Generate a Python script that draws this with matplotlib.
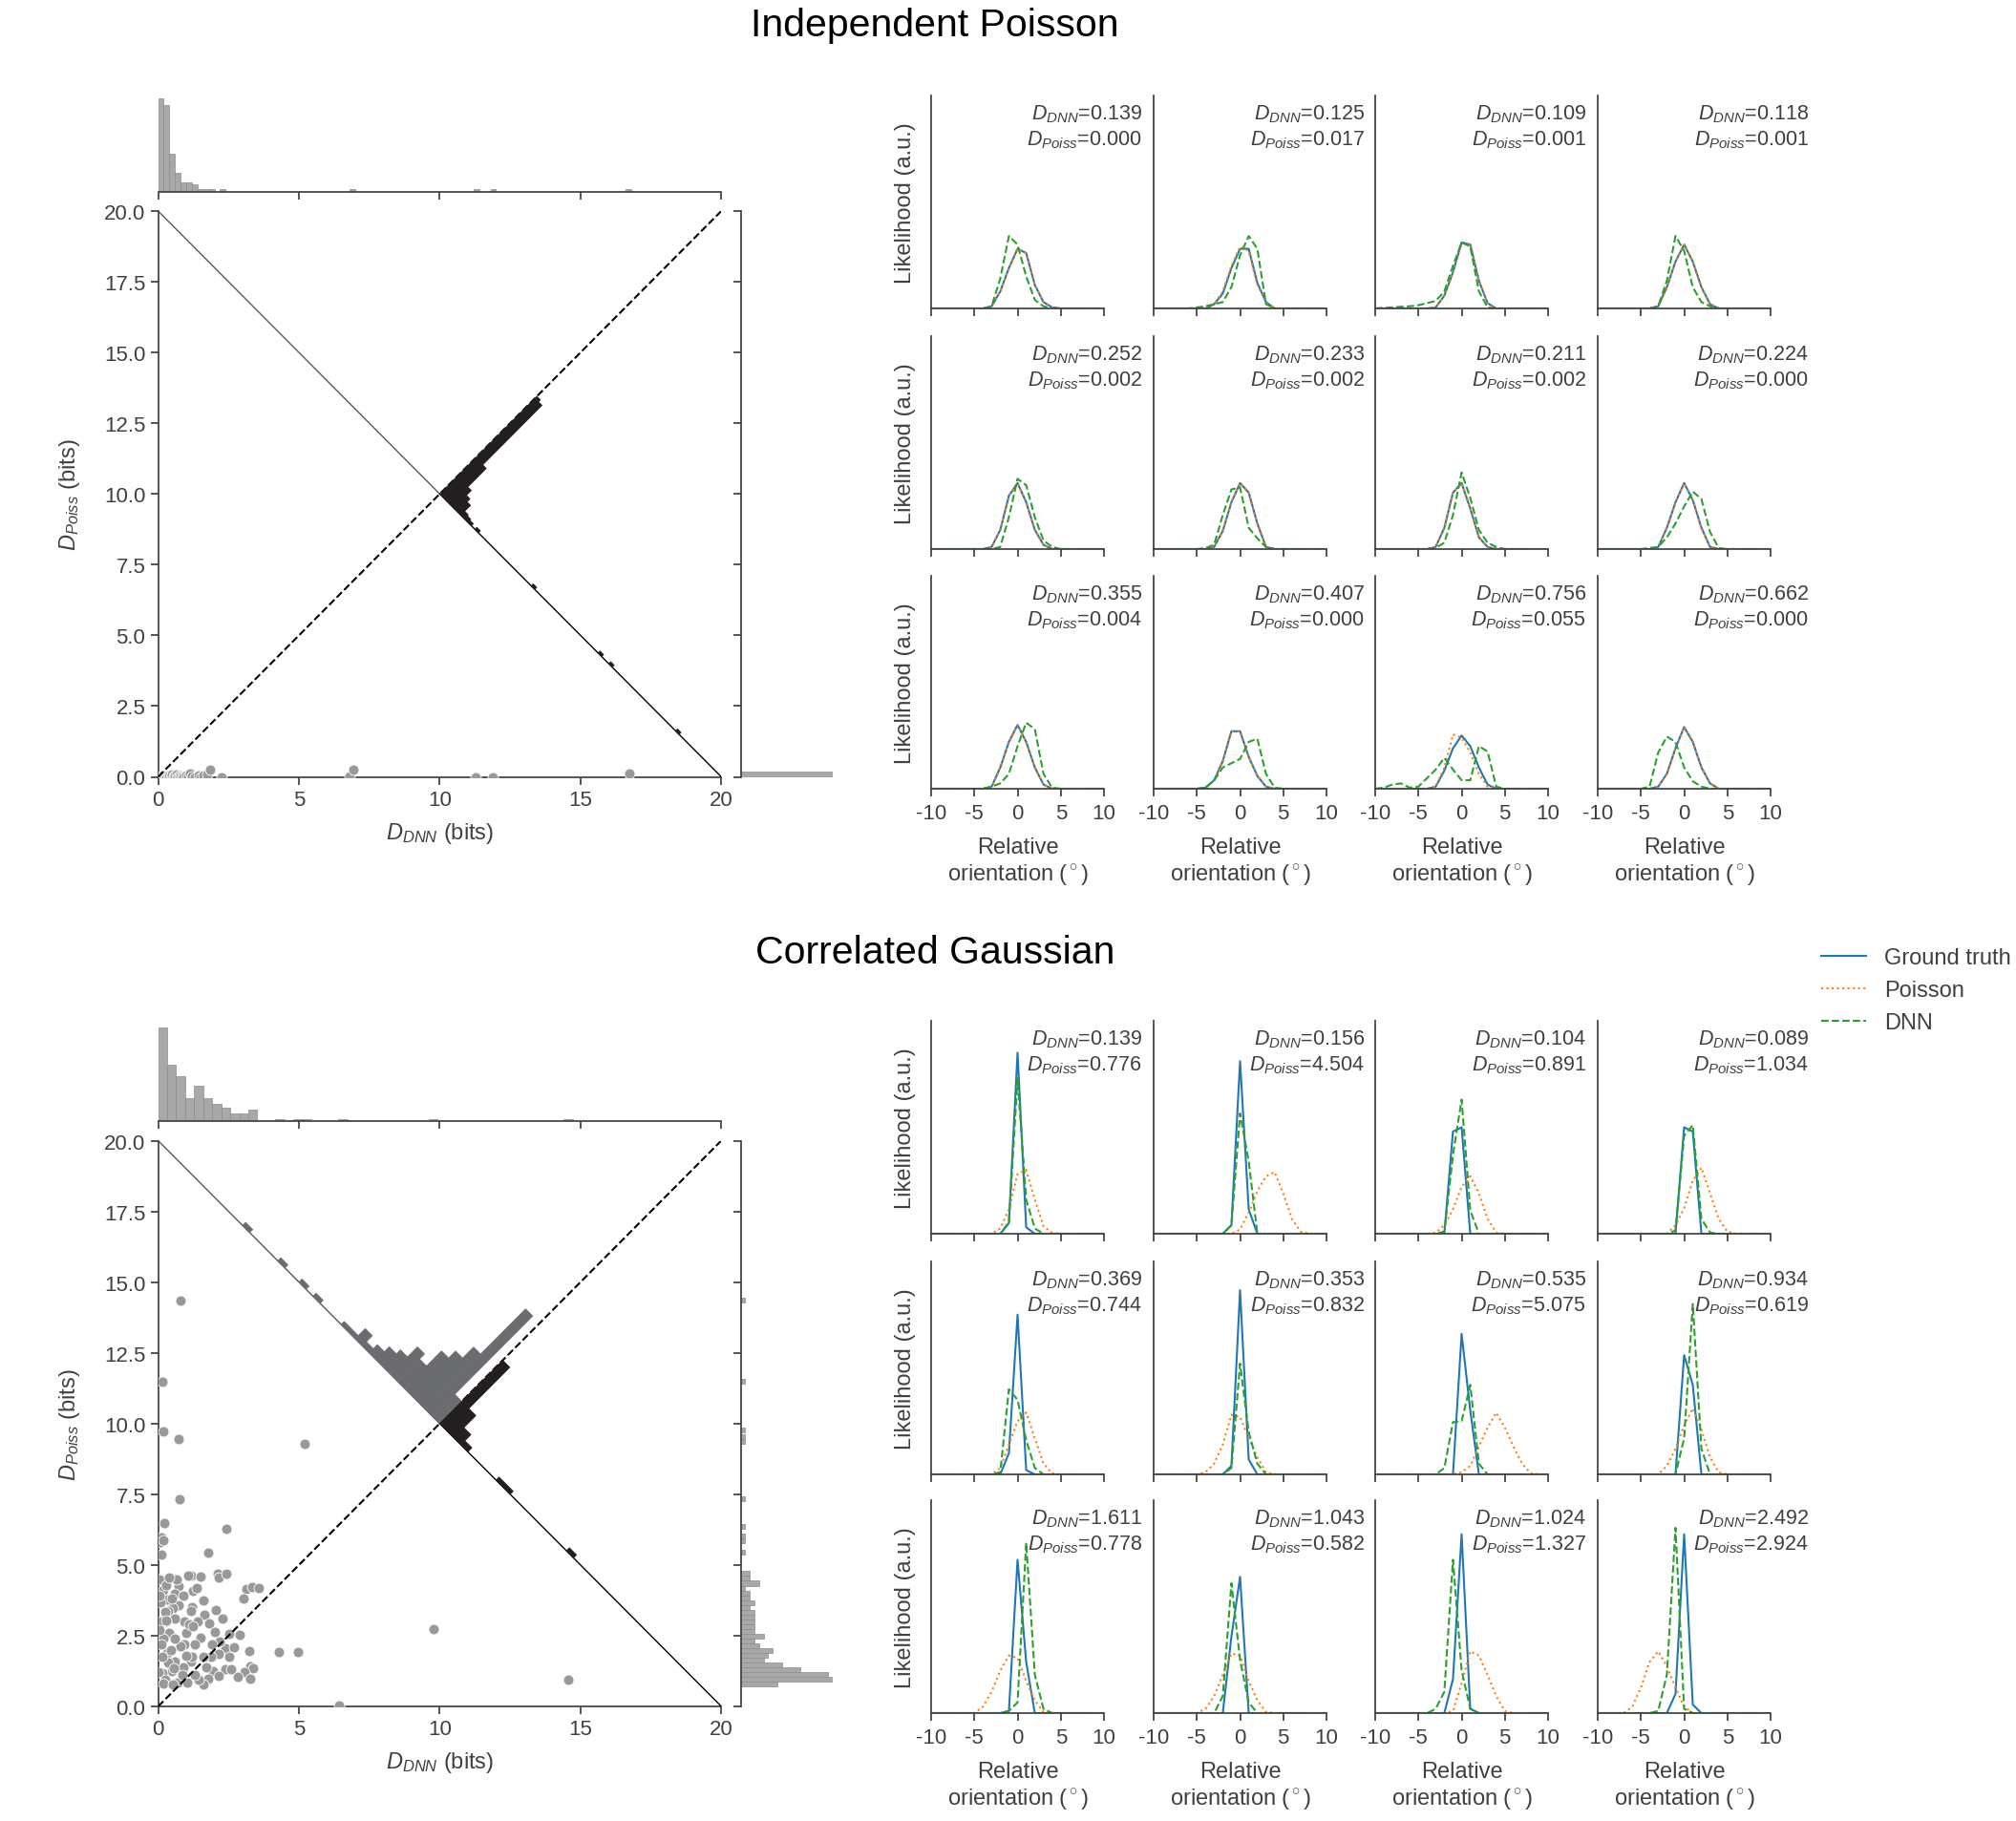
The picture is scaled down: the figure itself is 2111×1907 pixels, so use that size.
import numpy as np
import matplotlib
matplotlib.use('Agg')
import matplotlib.pyplot as plt
from matplotlib.transforms import Affine2D
from matplotlib.lines import Line2D

plt.rcParams['font.family'] = ['Liberation Sans', 'DejaVu Sans']
plt.rcParams['mathtext.fontset'] = 'custom'
plt.rcParams['mathtext.rm'] = 'Liberation Sans'
plt.rcParams['mathtext.it'] = 'Liberation Sans:italic'
plt.rcParams['mathtext.bf'] = 'Liberation Sans:bold'
plt.rcParams['axes.unicode_minus'] = False

DARK = '#404040'
for k in ['text.color', 'axes.labelcolor', 'xtick.color', 'ytick.color', 'axes.edgecolor']:
    plt.rcParams[k] = DARK

# ------------------------------------------------------------------ data
titles = ['Independent Poisson', 'Correlated Gaussian']

# scatter: (D_DNN, D_Poiss)
dnn_pts_top = [0.05, 0.1, 0.15, 0.2, 0.25, 0.3, 0.36, 0.4, 0.45, 0.5, 0.55, 0.6, 0.65, 0.7, 0.75, 0.8, 0.85,
               0.9, 1.0, 1.05, 1.13, 1.2, 1.3, 1.43, 1.5, 1.6, 1.73, 1.86, 2.25, 6.8, 6.93, 11.26, 11.87, 16.75]
poiss_pts_top = [0, 0.02, 0, 0.05, 0.01, 0, 0.05, 0.03, 0, 0.08, 0.02, 0.04, 0.1, 0, 0.06, 0.02, 0.03,
                 0, 0.05, 0.02, 0.12, 0.03, 0, 0.05, 0, 0.04, 0.1, 0.25, 0, 0.03, 0.25, 0, 0, 0.12]

dnn_pts_bot = [0.81, 0.15, 0.2, 0.74, 5.21, 0.77, 0.23, 2.41, 0.11, 0.08, 0.19, 0.11, 1.78, 1.18, 1.06, 1.52,
               2.13, 2.15, 2.43, 0.74, 0.19, 1.23, 1.38, 3.13, 3.33, 3.59, 3.02, 1.61, 0.31, 0.08, 0.72, 0.51,
               1.19, 1.16, 0.36, 0.25, 1.65, 1.8, 0.92, 0.59, 0.27, 2.0, 1.49, 2.51, 2.89, 0.93, 0.78, 0.32,
               2.4, 3.25, 4.3, 4.98, 2.15, 2.51, 1.89, 1.16, 1.61, 1.21, 3.28, 3.36, 3.08, 0.48, 0.14, 1.95,
               2.4, 2.15, 2.82, 3.28, 0.25, 0.7, 1.04, 1.47, 1.78, 0.19, 0.53, 1.61, 1.44, 9.78, 14.58, 6.42,
               0.05, 0.3, 0.6, 0.9, 0.4, 0.6, 1.0, 1.3, 0.9, 1.3, 1.7, 0.6, 2.2, 2.7, 0.2, 0.1, 0.5, 1.4, 1.9,
               2.6, 0.35, 1.1, 2.3, 0.65, 0.45, 0.05, 0.15, 0.85, 1.25, 0.55, 0.05, 0.3, 0.1, 1.0, 2.05, 0.0, 0.4]
poiss_pts_bot = [14.33, 11.46, 9.73, 9.46, 9.29, 7.33, 6.49, 6.28, 5.98, 5.81, 5.87, 5.36, 5.44, 4.63, 4.63, 4.6,
                 4.68, 4.55, 4.7, 4.25, 4.13, 4.07, 4.18, 4.15, 4.23, 4.2, 3.8, 3.76, 3.78, 3.67, 3.58, 3.49,
                 3.5, 3.36, 3.36, 3.35, 3.23, 2.93, 3.02, 3.1, 2.99, 2.63, 2.43, 2.57, 2.54, 2.2, 2.12, 1.9,
                 2.07, 1.96, 1.94, 1.94, 1.86, 1.77, 1.75, 1.59, 1.75, 1.75, 1.41, 1.35, 1.21, 1.24, 1.19, 1.24,
                 1.3, 1.07, 1.04, 0.98, 0.96, 0.85, 0.85, 0.9, 0.98, 0.82, 0.79, 0.79, 0.94, 2.73, 0.93, 0.03,
                 4.5, 4.3, 4.0, 3.9, 2.6, 2.4, 2.6, 2.2, 1.4, 1.1, 1.4, 1.6, 2.3, 2.1, 2.4, 3.0, 3.8, 3.0, 2.2,
                 1.3, 1.55, 2.9, 3.1, 4.5, 2.0, 2.7, 1.75, 1.1, 2.85, 1.35, 3.9, 3.05, 2.2, 1.8, 3.4, 1.2, 4.55]

# marginal histogram of D_DNN (bin left edges, counts)
dnn_bin_left_top = [0.0, 0.2, 0.4, 0.6, 0.8, 1.0, 1.2, 1.4, 1.6, 1.8, 2.2, 6.8, 11.2, 11.8, 16.6]
dnn_count_top = [40, 37, 16, 8, 4, 4, 3, 1, 1, 1, 1, 1, 1, 1, 1]
dnn_bin_w_top = 0.2
dnn_bin_left_bot = [0.0, 0.32, 0.64, 0.96, 1.28, 1.6, 1.92, 2.24, 2.56, 2.88, 3.2, 4.16, 4.8, 5.12, 6.4, 9.6, 14.4]
dnn_count_bot = [48, 29, 23, 12, 18, 12, 9, 7, 4, 4, 6, 1, 1, 1, 1, 1, 1]
dnn_bin_w_bot = 0.32

# marginal histogram of D_Poiss
poiss_bin_left_top = [0.0]
poiss_count_top = [120]
poiss_bin_w_top = 0.2
poiss_bin_left_bot = [0.70, 0.87, 1.04, 1.21, 1.38, 1.55, 1.72, 1.89, 2.06, 2.23, 2.40, 2.57, 2.74, 2.91, 3.08,
                      3.25, 3.42, 3.59, 3.76, 3.93, 4.10, 4.27, 4.44, 4.61, 5.36, 5.78, 5.95, 6.27, 7.27, 9.27,
                      9.44, 9.70, 11.40, 14.28]
poiss_count_bot = [8, 20, 19, 13, 9, 5, 6, 7, 4, 3, 5, 3, 3, 3, 3, 3, 2, 3, 2, 2, 1, 4, 2, 2,
                   1, 1, 1, 1, 1, 1, 1, 1, 1, 1]
poiss_bin_w_bot = 0.17

# histogram of D_Poiss - D_DNN (bin centres, counts), drawn along the anti-diagonal
diff_centre_top = [-0.125, -0.375, -0.625, -0.875, -1.125, -1.375, -1.625, -1.875, -2.125, -2.625,
                   -6.625, -11.375, -12.125, -16.875]
diff_count_top = [100, 98, 37, 18, 13, 10, 4, 3, 2, 2, 2, 2, 2, 2]
diff_w_top = 0.25
diff_centre_bot = [0.25, 0.75, 1.25, 1.75, 2.25, 2.75, 3.25, 3.75, 4.25, 4.75, 5.25, 5.75, 6.25, 6.75, 8.75,
                   9.75, 11.25, 13.75, -0.25, -0.75, -1.25, -1.75, -4.25, -4.75, -9.25]
diff_count_bot = [22, 100, 55, 44, 37, 22, 27, 17, 13, 8, 4, 10, 3, 3, 3, 3, 3, 3, 63, 22, 10, 4, 3, 3, 3]
diff_w_bot = 0.5

# likelihood panels
orientation = [-10, -9, -8, -7, -6, -5, -4, -3, -2, -1, 0, 1, 2, 3, 4, 5, 6, 7, 8, 9, 10]

gt_top = [
    [0,0,0,0,0,0,0,.01,.08,.19,.28,.26,.11,.03,.005,0,0,0,0,0,0],
    [0,0,0,0,0,0,0,.02,.07,.19,.28,.28,.12,.03,0,0,0,0,0,0,0],
    [0,0,0,0,0,0,0,.005,.06,.17,.31,.30,.13,.025,0,0,0,0,0,0,0],
    [0,0,0,0,0,0,0,.01,.10,.22,.30,.22,.10,.02,0,0,0,0,0,0,0],
    [0,0,0,0,0,0,0,.01,.09,.25,.31,.22,.09,.02,0,0,0,0,0,0,0],
    [0,0,0,0,0,0,0,.01,.085,.22,.31,.265,.12,.01,0,0,0,0,0,0,0],
    [0,0,0,0,0,0,0,.01,.10,.265,.31,.19,.055,.01,0,0,0,0,0,0,0],
    [0,0,0,0,0,0,0,.01,.10,.22,.31,.23,.10,.01,0,0,0,0,0,0,0],
    [0,0,0,0,0,0,0,.01,.10,.22,.30,.22,.10,.02,0,0,0,0,0,0,0],
    [0,0,0,0,0,0,.005,.04,.13,.27,.27,.15,.06,.01,0,0,0,0,0,0,0],
    [0,0,0,0,0,0,0,.01,.085,.19,.25,.20,.10,.02,0,0,0,0,0,0,0],
    [0,0,0,0,0,0,0,.01,.07,.19,.29,.22,.10,.025,0,0,0,0,0,0,0],
]
poisson_top = [
    [0,0,0,0,0,0,0,.01,.08,.19,.28,.26,.11,.03,.005,0,0,0,0,0,0],
    [0,0,0,0,0,0,0,.02,.08,.20,.29,.27,.11,.03,0,0,0,0,0,0,0],
    [0,0,0,0,0,0,0,.005,.06,.17,.31,.30,.13,.025,0,0,0,0,0,0,0],
    [0,0,0,0,0,0,0,.01,.10,.22,.30,.22,.10,.02,0,0,0,0,0,0,0],
    [0,0,0,0,0,0,0,.01,.09,.25,.31,.22,.09,.02,0,0,0,0,0,0,0],
    [0,0,0,0,0,0,0,.01,.085,.22,.31,.265,.12,.01,0,0,0,0,0,0,0],
    [0,0,0,0,0,0,0,.01,.10,.265,.31,.19,.055,.01,0,0,0,0,0,0,0],
    [0,0,0,0,0,0,0,.01,.10,.22,.31,.23,.10,.01,0,0,0,0,0,0,0],
    [0,0,0,0,0,0,0,.01,.10,.22,.30,.22,.10,.02,0,0,0,0,0,0,0],
    [0,0,0,0,0,0,.005,.04,.13,.27,.27,.15,.06,.01,0,0,0,0,0,0,0],
    [0,0,0,0,0,0,0,.01,.10,.255,.24,.17,.07,.01,0,0,0,0,0,0,0],
    [0,0,0,0,0,0,0,.01,.07,.19,.29,.22,.10,.025,0,0,0,0,0,0,0],
]
dnn_top = [
    [0,0,0,0,0,0,0,.01,.14,.34,.30,.15,.04,.01,0,0,0,0,0,0,0],
    [0,0,0,0,0,.005,.01,.02,.03,.10,.25,.34,.28,.02,0,0,0,0,0,0,0],
    [0,.003,.005,.008,.01,.015,.025,.035,.08,.20,.31,.29,.08,.005,0,0,0,0,0,0,0],
    [0,0,0,0,0,0,0,.01,.13,.34,.27,.10,.03,.01,0,0,0,0,0,0,0],
    [0,0,0,0,0,0,0,0,.01,.15,.33,.30,.15,.04,.01,0,0,0,0,0,0],
    [0,0,0,0,0,0,.005,.02,.16,.28,.29,.10,.05,.01,0,0,0,0,0,0,0],
    [0,0,0,0,0,0,0,.005,.03,.16,.36,.24,.09,.03,.01,0,0,0,0,0,0],
    [0,0,0,0,0,0,.005,.01,.055,.12,.20,.27,.235,.08,.005,0,0,0,0,0,0],
    [0,0,0,0,0,0,0,.01,.025,.07,.20,.31,.28,.07,.005,0,0,0,0,0,0],
    [0,0,0,0,0,0,.005,.04,.10,.12,.14,.22,.235,.07,.005,0,0,0,0,0,0],
    [0,.005,.02,.025,.005,.01,.05,.09,.145,.09,.04,.04,.20,.175,.01,0,0,0,0,0,0],
    [0,0,0,0,0,0,.01,.17,.245,.22,.10,.035,.01,0,0,0,0,0,0,0,0],
]
gt_bot = [
    [0,0,0,0,0,0,0,0,0,.05,.85,.03,0,0,0,0,0,0,0,0,0],
    [0,0,0,0,0,0,0,0,0,.04,.81,.115,0,0,0,0,0,0,0,0,0],
    [0,0,0,0,0,0,0,0,0,.48,.50,0,0,0,0,0,0,0,0,0,0],
    [0,0,0,0,0,0,0,0,0,0,.50,.48,0,0,0,0,0,0,0,0,0],
    [0,0,0,0,0,0,0,0,0,.10,.75,.02,0,0,0,0,0,0,0,0,0],
    [0,0,0,0,0,0,0,0,0,.04,.865,.07,0,0,0,0,0,0,0,0,0],
    [0,0,0,0,0,0,0,0,0,0,.66,.30,0,0,0,0,0,0,0,0,0],
    [0,0,0,0,0,0,0,0,0,0,.56,.42,0,0,0,0,0,0,0,0,0],
    [0,0,0,0,0,0,0,0,0,.01,.72,.24,0,0,0,0,0,0,0,0,0],
    [0,0,0,0,0,0,0,0,0,.36,.64,0,0,0,0,0,0,0,0,0,0],
    [0,0,0,0,0,0,0,0,0,.16,.84,.02,0,0,0,0,0,0,0,0,0],
    [0,0,0,0,0,0,0,0,0,.09,.84,.04,0,0,0,0,0,0,0,0,0],
]
poisson_bot = [
    [0,0,0,0,0,0,0,0,.025,.115,.28,.30,.16,.035,.005,0,0,0,0,0,0],
    [0,0,0,0,0,0,0,0,0,0,.02,.10,.20,.27,.29,.19,.07,.01,0,0,0],
    [0,0,0,0,0,0,0,.005,.04,.115,.22,.27,.19,.07,.005,0,0,0,0,0,0],
    [0,0,0,0,0,0,0,0,0,.04,.12,.25,.31,.19,.07,.01,0,0,0,0,0],
    [0,0,0,0,0,0,0,0,.03,.14,.25,.29,.17,.05,.005,0,0,0,0,0,0],
    [0,0,0,0,0,0,.01,.05,.14,.28,.27,.17,.08,.01,0,0,0,0,0,0,0],
    [0,0,0,0,0,0,0,0,0,0,.01,.04,.13,.22,.29,.22,.13,.05,.005,0,0],
    [0,0,0,0,0,0,0,0,.04,.12,.23,.31,.21,.08,.01,0,0,0,0,0,0],
    [0,0,0,0,0,0,.03,.10,.20,.27,.26,.15,.06,.005,0,0,0,0,0,0,0],
    [0,0,0,0,0,0,.02,.08,.18,.28,.27,.15,.06,.005,0,0,0,0,0,0,0],
    [0,0,0,0,0,0,0,0,0,.01,.14,.29,.27,.18,.08,.01,0,0,0,0,0],
    [0,0,0,0,.03,.12,.24,.29,.22,.12,.03,0,0,0,0,0,0,0,0,0,0],
]
dnn_bot = [
    [0,0,0,0,0,0,0,0,0,.055,.73,.16,.025,0,0,0,0,0,0,0,0],
    [0,0,0,0,0,0,0,0,0,.04,.565,.34,0,0,0,0,0,0,0,0,0],
    [0,0,0,0,0,0,0,0,.01,.37,.63,.11,0,0,0,0,0,0,0,0,0],
    [0,0,0,0,0,0,0,0,0,.015,.46,.51,.07,.005,0,0,0,0,0,0,0],
    [0,0,0,0,0,0,0,0,.01,.40,.35,.16,.03,0,0,0,0,0,0,0,0],
    [0,0,0,0,0,0,0,0,0,.03,.52,.20,.05,0,0,0,0,0,0,0,0],
    [0,0,0,0,0,0,0,0,.03,.245,.25,.42,.05,0,0,0,0,0,0,0,0],
    [0,0,0,0,0,0,0,0,0,0,.17,.80,.12,0,0,0,0,0,0,0,0],
    [0,0,0,0,0,0,0,0,0,.01,.05,.80,.18,.02,0,0,0,0,0,0,0],
    [0,0,0,0,0,0,0,0,.08,.61,.25,.05,0,0,0,0,0,0,0,0,0],
    [0,0,0,0,0,0,0,.02,.10,.72,.20,.02,0,0,0,0,0,0,0,0,0],
    [0,0,0,0,0,0,0,.01,.18,.87,.02,0,0,0,0,0,0,0,0,0,0],
]

d_dnn_top = [0.139, 0.125, 0.109, 0.118, 0.252, 0.233, 0.211, 0.224, 0.355, 0.407, 0.756, 0.662]
d_poiss_top = [0.000, 0.017, 0.001, 0.001, 0.002, 0.002, 0.002, 0.000, 0.004, 0.000, 0.055, 0.000]
d_dnn_bot = [0.139, 0.156, 0.104, 0.089, 0.369, 0.353, 0.535, 0.934, 1.611, 1.043, 1.024, 2.492]
d_poiss_bot = [0.776, 4.504, 0.891, 1.034, 0.744, 0.832, 5.075, 0.619, 0.778, 0.582, 1.327, 2.924]

legend_labels = ['Ground truth', 'Poisson', 'DNN']

# ------------------------------------------------------------------ layout
W, H = 2111, 1908
fig = plt.figure(figsize=(W / 100, H / 100), dpi=100)


def fa(left, top, w, h):
    return [left / W, 1 - (top + h) / H, w / W, h / H]


C_BLUE, C_ORANGE, C_GREEN = '#1f77b4', '#ff7f0e', '#2ca02c'
HIST_GRAY = '#a8a8a8'
TICK_FS, LAB_FS = 16, 17

sections = [
    dict(title=titles[0], title_y=27, main_top=222,
         xs=dnn_pts_top, ys=poiss_pts_top,
         hx=(dnn_bin_left_top, dnn_count_top, dnn_bin_w_top),
         hy=(poiss_bin_left_top, poiss_count_top, poiss_bin_w_top),
         dd=(diff_centre_top, diff_count_top, diff_w_top, 3.45),
         rows=[101, 353, 604], gt=gt_top, po=poisson_top, dn=dnn_top,
         tdnn=d_dnn_top, tpo=d_poiss_top),
    dict(title=titles[1], title_y=998, main_top=1195.5,
         xs=dnn_pts_bot, ys=poiss_pts_bot,
         hx=(dnn_bin_left_bot, dnn_count_bot, dnn_bin_w_bot),
         hy=(poiss_bin_left_bot, poiss_count_bot, poiss_bin_w_bot),
         dd=(diff_centre_bot, diff_count_bot, diff_w_bot, 3.55),
         rows=[1070, 1322, 1572], gt=gt_bot, po=poisson_bot, dn=dnn_bot,
         tdnn=d_dnn_bot, tpo=d_poiss_bot),
]
col_left = [975, 1208, 1440, 1673]
PW, PH = 181, 223

for sec in sections:
    fig.text(979 / W, 1 - sec['title_y'] / H, sec['title'], ha='center', va='center',
             fontsize=29.5, color='black')

    mt = sec['main_top']
    ax = fig.add_axes(fa(165.6, mt, 589.7, 592.5))
    axt = fig.add_axes(fa(165.6, mt - 20.5 - 98, 589.7, 98))
    axr = fig.add_axes(fa(775.5, mt, 96.5, 592.5))

    # scatter
    ax.scatter(sec['xs'], sec['ys'], s=62, c='#999999', edgecolors='white', linewidths=0.6, zorder=3)
    ax.plot([0, 20], [0, 20], color='black', ls='--', lw=1.5, zorder=4)
    ax.plot([0, 10], [20, 10], color='0.35', lw=1.0, zorder=4)
    ax.plot([10, 20], [10, 0], color='black', lw=1.0, zorder=4)

    # rotated histogram of the difference along the anti-diagonal
    centres, counts, w, maxlen = sec['dd']
    counts = np.asarray(counts, float)
    lengths = counts / counts.max() * maxlen
    cols = ['#6b6c70' if c > 0 else '#231f20' for c in centres]
    rot = Affine2D(np.array([[1.0, -0.5, 10.0], [1.0, 0.5, 10.0], [0, 0, 1]])) + ax.transData
    ax.barh(centres, lengths, height=w, left=0, color=cols, edgecolor=cols, linewidth=0.6,
            transform=rot, zorder=5)

    ax.set_xlim(0, 20)
    ax.set_ylim(0, 20)
    ax.set_xticks([0, 5, 10, 15, 20])
    ax.set_yticks(np.arange(0, 20.01, 2.5))
    ax.spines[['top', 'right']].set_visible(False)
    for sp in ax.spines.values():
        sp.set_linewidth(1.25)
    ax.tick_params(direction='out', length=6, width=1.25, labelsize=TICK_FS)
    ax.set_xlabel('$D_{DNN}$ (bits)', fontsize=LAB_FS)
    ax.set_ylabel('$D_{Poiss}$ (bits)', fontsize=LAB_FS)
    ax.xaxis.set_label_coords(0.5, -0.076)
    ax.yaxis.set_label_coords(-0.135, 0.5)

    # marginal histograms
    lx, cx, wx = sec['hx']
    axt.bar(lx, cx, width=wx, align='edge', color=HIST_GRAY, edgecolor='#8c8c8c', linewidth=0.5)
    axt.set_xlim(0, 20)
    axt.set_ylim(0, max(cx))
    axt.set_xticks([0, 5, 10, 15, 20])
    axt.set_xticklabels([])
    axt.set_yticks([])
    axt.spines[['top', 'right', 'left']].set_visible(False)
    axt.spines['bottom'].set_linewidth(1.25)
    axt.tick_params(direction='out', length=6, width=1.25)

    ly, cy, wy = sec['hy']
    axr.barh(ly, cy, height=wy, align='edge', color=HIST_GRAY, edgecolor='#8c8c8c', linewidth=0.5)
    axr.set_ylim(0, 20)
    axr.set_xlim(0, max(cy))
    axr.set_yticks(np.arange(0, 20.01, 2.5))
    axr.set_yticklabels([])
    axr.set_xticks([])
    axr.spines[['top', 'right', 'bottom']].set_visible(False)
    axr.spines['left'].set_linewidth(1.25)
    axr.tick_params(direction='out', length=6, width=1.25)

    # likelihood panels
    for r in range(3):
        for c in range(4):
            i = r * 4 + c
            pa = fig.add_axes(fa(col_left[c], sec['rows'][r], PW, PH))
            pa.plot(orientation, sec['gt'][i], color=C_BLUE, lw=1.5)
            pa.plot(orientation, sec['po'][i], color=C_ORANGE, lw=1.5, ls=':')
            pa.plot(orientation, sec['dn'][i], color=C_GREEN, lw=1.5, ls='--')
            pa.set_xlim(-10, 10)
            pa.set_ylim(0, 1)
            pa.set_yticks([])
            pa.set_xticks([-10, -5, 0, 5, 10])
            pa.spines[['top', 'right']].set_visible(False)
            for sp in pa.spines.values():
                sp.set_linewidth(1.25)
            pa.tick_params(direction='out', length=6, width=1.25, labelsize=TICK_FS, pad=5)
            if r < 2:
                pa.set_xticklabels([])
            else:
                pa.set_xlabel('Relative\norientation ($^\\circ$)', fontsize=LAB_FS)
                pa.xaxis.set_label_coords(0.5, -0.225)
            if c == 0:
                pa.set_ylabel('Likelihood (a.u.)', fontsize=LAB_FS)
                pa.yaxis.set_label_coords(-0.09, 0.5)
            pa.text(1.22, 0.965,
                    '$D_{DNN}$=%.3f\n$D_{Poiss}$=%.3f' % (sec['tdnn'][i], sec['tpo'][i]),
                    transform=pa.transAxes, ha='right', va='top', fontsize=15.5,
                    multialignment='right', linespacing=1.25, color=DARK)

handles = [Line2D([], [], color=C_BLUE, lw=1.5),
           Line2D([], [], color=C_ORANGE, lw=1.5, ls=':'),
           Line2D([], [], color=C_GREEN, lw=1.5, ls='--')]
fig.legend(handles, legend_labels, loc='upper left', bbox_to_anchor=(1886 / W, 1 - 972 / H),
           frameon=False, fontsize=17, handlelength=2.0)

fig.savefig('out.png', dpi=100)
